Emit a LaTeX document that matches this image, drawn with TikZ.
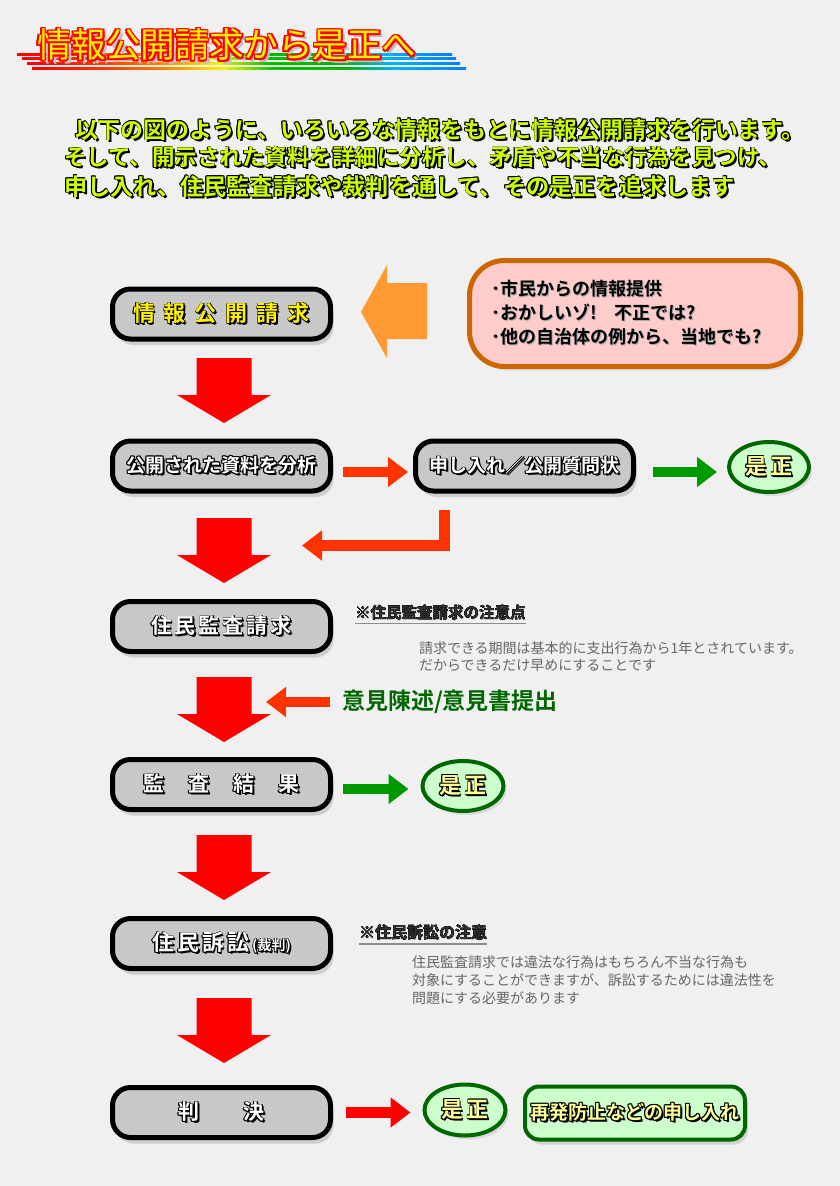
\documentclass[tikz,border=0pt]{standalone}
\usepackage{fontspec}
\setmainfont{Noto Sans CJK JP}[BoldFont={Noto Sans CJK JP Bold}]
\usetikzlibrary{arrows.meta,shadows,calc,shapes.geometric}
\definecolor{bg}{HTML}{F0F0F0}
\definecolor{boxgray}{HTML}{C8C8C8}
\definecolor{bred}{HTML}{FF0000}
\definecolor{ored}{HTML}{FF3300}
\definecolor{agreen}{HTML}{009900}
\definecolor{dgreen}{HTML}{006600}
\definecolor{lgreen}{HTML}{CCFFCC}
\definecolor{pinkf}{HTML}{FFCCCC}
\definecolor{pinkedge}{HTML}{CC6600}
\definecolor{orangea}{HTML}{FF9933}
\definecolor{introc}{HTML}{CCFF00}
\definecolor{lyellow}{HTML}{FFFF99}
\definecolor{notedark}{HTML}{333333}
\definecolor{notegray}{HTML}{666666}
\pgfdeclarehorizontalshading{rainbow}{100bp}{color(0bp)=(red); color(26bp)=(red); color(33bp)=(red!60!orange); color(40bp)=(orange); color(47bp)=(yellow!90!orange); color(53bp)=(green!75!black); color(61bp)=(green!70!black); color(67bp)=(cyan!70!blue); color(75bp)=(cyan!50!blue); color(100bp)=(cyan!50!blue)}
\newcommand\fsz[1]{\fontsize{#1}{#1}\selectfont}
\newcommand\fancy[6]{\begingroup\setbox0=\hbox{#6}%
\rlap{\color{#1}\kern#2\lower#2\copy0}%
\rlap{\color{#3}\kern#4\copy0}\rlap{\color{#3}\kern-#4\copy0}%
\rlap{\color{#3}\raise#4\copy0}\rlap{\color{#3}\lower#4\copy0}%
\rlap{\color{#3}\kern#4\raise#4\copy0}\rlap{\color{#3}\kern-#4\raise#4\copy0}%
\rlap{\color{#3}\kern#4\lower#4\copy0}\rlap{\color{#3}\kern-#4\lower#4\copy0}%
{\color{#5}\box0}\endgroup}
\newcommand\softsh[1]{\begingroup\setbox0=\hbox{#1}\rlap{\color{black!35}\kern1.3pt\lower1.3pt\copy0}{\color{black}\box0}\endgroup}
\newcommand\wlab[1]{\fancy{black}{1.8pt}{black}{0.6pt}{white}{#1}}
\newcommand\ylab[1]{\fancy{black}{1.8pt}{black}{0.8pt}{lyellow}{#1}}
\newcommand\bigdown[2]{\fill[bred] (#1-27.5,#2) -- (#1+27.5,#2) -- (#1+27.5,#2+37) -- (#1+47,#2+37) -- (#1,#2+65) -- (#1-47,#2+37) -- (#1-27.5,#2+37) -- cycle;}
\tikzset{
 stepbox/.style={rounded corners=18pt, draw=black, line width=5pt, fill=boxgray, minimum width=218pt, minimum height=50pt, drop shadow={shadow xshift=3pt, shadow yshift=-6pt, opacity=0.3}, font=\bfseries},
 zesei/.style={ellipse, draw=dgreen, line width=4pt, fill=lgreen, minimum width=80pt, minimum height=50pt, drop shadow={shadow xshift=3pt, shadow yshift=-4pt, opacity=0.2}, font=\fsz{22}\bfseries},
 fatarrow/.style={line width=10.5pt, -{Triangle[length=20pt,width=29pt]}},
 introline/.style={anchor=west, font=\bfseries},
 pinkline/.style={anchor=west, font=\fsz{18}\bfseries},
 notehead/.style={anchor=west, text=notedark, font=\bfseries},
 notebody/.style={anchor=west, text=notegray, font=\fsz{14}},
}
\begin{document}
\begin{tikzpicture}[x=1pt,y=-1pt, every node/.style={inner sep=0pt, outer sep=0pt}]
\useasboundingbox (0,0) rectangle (840,1186);
\fill[bg] (0,0) rectangle (840,1186);
% title
\foreach \yy/\a/\b in {54.3/17/452, 58.6/22/456, 63.3/27/460, 68.3/32/466}
  \shade[shading=rainbow] (\a,\yy-1.3) rectangle (\b,\yy+1.3);
\node[anchor=west, font=\fsz{34.5}] (title) at (37,46) {\fancy{black!25}{4pt}{red}{1.8pt}{yellow}{情報公開請求から是正へ}};
% intro
\node[introline] (i1) at (75,130) {\fsz{22.9}\fancy{black}{2pt}{black}{0.7pt}{introc}{以下の図のように、いろいろな情報をもとに情報公開請求を行います。}};
\node[introline] (i2) at (64,158) {\fsz{22.5}\fancy{black}{2pt}{black}{0.7pt}{introc}{そして、開示された資料を詳細に分析し、矛盾や不当な行為を見つけ、}};
\node[introline] (i3) at (64,187) {\fsz{23.2}\fancy{black}{2pt}{black}{0.7pt}{introc}{申し入れ、住民監査請求や裁判を通して、その是正を追求します}};
% boxes
\node[stepbox] (b1) at (221.5,314) {\fsz{22}\fancy{black}{1.8pt}{black}{0.8pt}{yellow}{情\hspace{9pt}報\hspace{9pt}公\hspace{9pt}開\hspace{9pt}請\hspace{9pt}求}};
\node[stepbox] (b2) at (221.5,466) {\fsz{19}\wlab{公開された資料を分析}};
\node[stepbox] (sm) at (524.5,466) {\fsz{19}\wlab{申し入れ／公開質問状}};
\node[stepbox] (b3) at (221.5,626.5) {\fsz{21}\wlab{住\hspace{3pt}民\hspace{3pt}監\hspace{3pt}査\hspace{3pt}請\hspace{3pt}求}};
\node[stepbox] (b4) at (221.5,784.5) {\fsz{21}\wlab{監\hspace{24pt}査\hspace{24pt}結\hspace{24pt}果}};
\node[stepbox] (b5) at (221.5,943.5) {\fsz{22}\wlab{住\hspace{3pt}民\hspace{3pt}訴\hspace{3pt}訟\hspace{3pt}{\fsz{14}(裁判)}}};
\node[stepbox] (b6) at (221.5,1112.5) {\fsz{21}\wlab{判\hspace{44pt}決}};
% zesei
\node[zesei] (z1) at (769,467) {\ylab{是\hspace{4pt}正}};
\node[zesei, minimum width=81pt] (z2) at (463,786) {\ylab{是\hspace{4pt}正}};
\node[zesei, minimum width=81pt, minimum height=51pt] (z3) at (465,1110) {\ylab{是\hspace{4pt}正}};
\node[rounded corners=14pt, draw=dgreen, line width=4pt, fill=lgreen, minimum width=220pt, minimum height=53pt, drop shadow={shadow xshift=3pt, shadow yshift=-5pt, opacity=0.25}, font=\fsz{19}\bfseries] (rp) at (635,1113) {\ylab{再発防止などの申し入れ}};
% pink box
\node[rounded corners=35pt, draw=pinkedge, line width=5pt, fill=pinkf, minimum width=331pt, minimum height=106pt, drop shadow={shadow xshift=3pt, shadow yshift=-4pt, opacity=0.15}] (pk) at (635,313.5) {};
\node[pinkline] (p1) at (491,289) {\softsh{･市民からの情報提供}};
\node[pinkline] (p2) at (491,313) {\softsh{･おかしいゾ!\hspace{18pt}不正では?}};
\node[pinkline] (p3) at (491,337) {\softsh{･他の自治体の例から、当地でも?}};
% orange arrow from pink box
\fill[orangea] (427,283) -- (387,283) -- (387,265) -- (361,312) -- (387,358) -- (387,339) -- (427,339) -- cycle;
% big red down arrows
\bigdown{224}{358}
\bigdown{224}{518}
\bigdown{224}{677}
\bigdown{224}{835}
\bigdown{224}{998}
% connectors
\draw[ored, fatarrow] ($(b2.east)+(12.5,6)$) -- ($(sm.west)+(-7.5,6)$);
\draw[agreen, fatarrow] ($(sm.east)+(19.5,6)$) -- ($(z1.west)+(-12,5)$);
\draw[agreen, fatarrow] ($(b4.east)+(12.5,4.5)$) -- ($(z2.west)+(-14,3)$);
\draw[bred, fatarrow] ($(b6.east)+(15.5,0)$) -- ($(z3.west)+(-14,2.5)$);
\coordinate (e1) at ($(sm.south)+(-80,18.5)$);
\coordinate (e2) at (302,545.5);
\draw[ored, fatarrow] (e1) |- (e2);
% iken
\node[anchor=west, text=dgreen, font=\fsz{23}\bfseries] (iken) at (342,702) {意見陳述/意見書提出};
\coordinate (ik) at (266,702);
\draw[ored, fatarrow] ($(iken.west)+(-12,0)$) -- (ik);
% notes
\node[notehead, font=\fsz{15.5}\bfseries] (n1) at (355,613) {\fancy{black!25}{1pt}{black}{0pt}{notedark}{※住民監査請求の注意点}};
\draw[black!45, line width=1.3pt] ($(n1.south west)+(0,3)$) -- ($(n1.south east)+(0,3)$);
\node[notebody] (n1a) at (419,648) {請求できる期間は基本的に支出行為から1年とされています。};
\node[notebody] (n1b) at (419,665) {だからできるだけ早めにすることです};
\node[notehead, font=\fsz{16}\bfseries] (n2) at (359,933) {\fancy{black!25}{1pt}{black}{0pt}{notedark}{※住民訴訟の注意}};
\draw[black!45, line width=1.3pt] ($(n2.south west)+(0,3)$) -- ($(n2.south east)+(0,3)$);
\node[notebody] (n2a) at (412,962) {住民監査請求では違法な行為はもちろん不当な行為も};
\node[notebody] (n2b) at (412,980) {対象にすることができますが、訴訟するためには違法性を};
\node[notebody] (n2c) at (412,998) {問題にする必要があります};
\end{tikzpicture}
\end{document}
